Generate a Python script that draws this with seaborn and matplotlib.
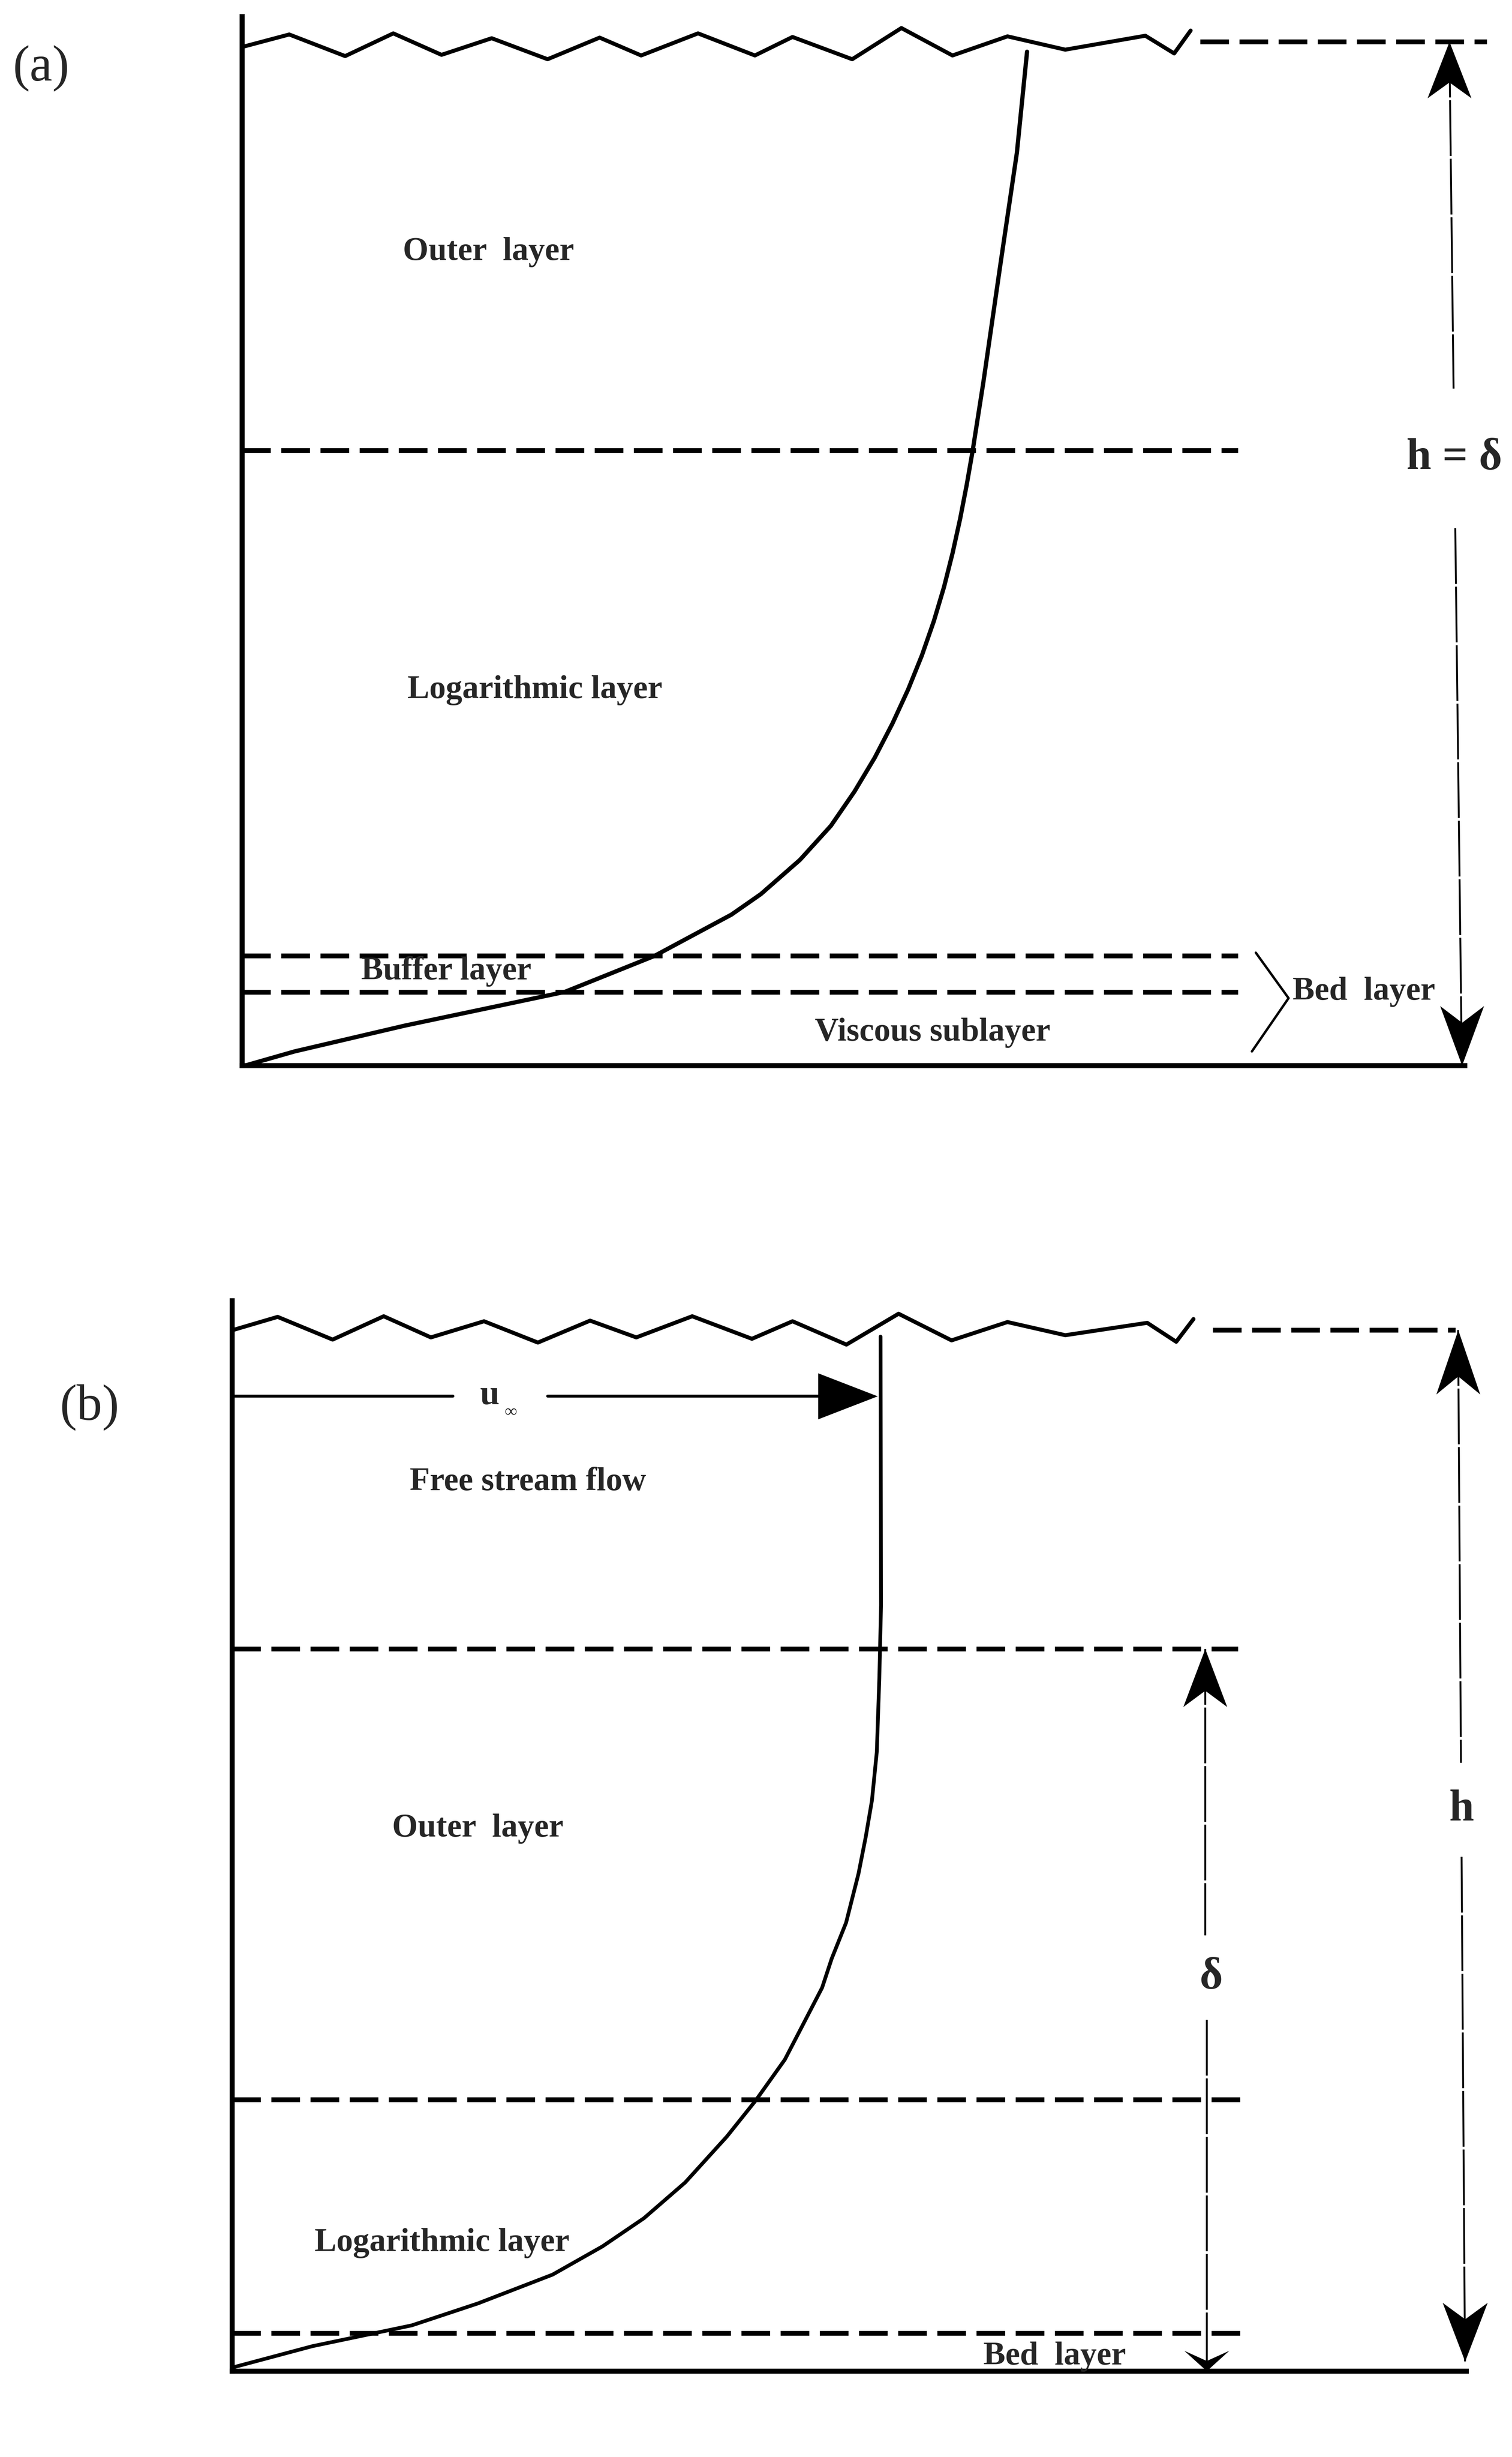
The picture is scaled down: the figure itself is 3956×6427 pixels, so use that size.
import numpy as np
import matplotlib
matplotlib.use("Agg")
import matplotlib.pyplot as plt
from matplotlib.path import Path
import seaborn as sns

# ------------------------------------------------------------------
# DATA  (diagram units: current speed u to the right of the z axis,
#        height z above the bed)
# ------------------------------------------------------------------
# Panel (a): h = delta, profile reaches the surface
a_profile_u = [2, 33.5, 104, 206, 263.3, 312.3, 331.1, 356, 375.8,
               390.8, 403.8, 415.1, 425.1, 433.9, 441.5, 448, 453.5, 458.3,
               462.5, 466.3, 473.1, 483.8, 494.5, 501]
a_profile_z = [0, 9, 25.5, 47, 70, 96.3, 109.4, 131.2, 153,
               174.8, 196.5, 218.3, 240, 261.8, 283.6, 305.4, 327.2, 349,
               370.7, 392.5, 436, 510, 582.5, 647]
a_wave_u = [0, 30.1, 65.8, 96.5, 127.3, 159.3, 195, 228.2, 254.7, 291,
            327.3, 351.3, 389.4, 420.8, 453.4, 488.5, 525.4, 576.5, 594.9, 605.4]
a_wave_z = [650, 658, 644.2, 658.7, 645, 655.6, 642.2, 656, 644.6, 658.7,
            644.6, 656.4, 642.2, 662.1, 644.6, 656.8, 648.3, 657.2, 645.9, 660.5]
a_bound_z = [392.5, 70, 47]          # outer/log, buffer top, viscous top
a_bound_len = [635.5, 635.5, 635.5]
a_surface_z = 653.4                  # h = delta
a_surface_u = [611.5, 794.5]
a_dim_u = [770.5, 778.5]             # h = delta dimension line (top, bottom)
a_dim_gap = [432, 343]
a_bracket_u = [647, 667.9, 644.5]
a_bracket_z = [72, 43, 9]
a_labels = ["Outer  layer", "Logarithmic layer", "Buffer layer",
            "Viscous sublayer", "Bed  layer"]

# Panel (b): free stream above the boundary layer
b_profile_u = [0, 51.3, 114.8, 157, 204.7, 236.5, 263, 289.3, 315.9, 334.3,
               352.9, 376.7, 382.8, 392, 399.9, 404.5, 408.5, 411.6, 413.2,
               414.3, 414]
b_profile_z = [2, 15.7, 29, 43, 61.4, 79.4, 97.4, 120.2, 149.5, 172.5,
               198.6, 244.5, 263, 286, 317.2, 340.5, 364, 395, 441.7,
               488.4, 660]
b_wave_u = [0, 29.2, 64.3, 96.9, 127, 160.9, 195.3, 228.6, 258.1, 293.8,
            331.9, 357.8, 392.2, 425.5, 459.3, 495, 531.9, 584.2, 602.7, 613.7]
b_wave_z = [664, 672.6, 658.1, 673, 659.5, 669.8, 656.2, 670.2, 659.5, 673,
            658.6, 669.8, 654.9, 674.6, 657.6, 669.3, 660.9, 668.8, 656.7, 671.2]
b_bound_z = [460.7, 173.2, 24]       # delta, outer/log, bed layer top
b_bound_len = [642, 648, 648]
b_surface_z = 664.2                  # h
b_surface_u = [626, 781]
b_h_u = [782.6, 787]
b_h_gap = [388, 328]
b_delta_u = [621, 622]
b_delta_gap = [278, 224]
b_uinf = 412                         # free-stream speed u_inf
b_uinf_z = 622
b_uinf_gap = [141, 201.5]
b_labels = ["Free stream flow", "Outer  layer", "Logarithmic layer", "Bed  layer"]

# ------------------------------------------------------------------
sns.set_theme(style="white")
plt.rcParams["font.family"] = ["Liberation Serif", "DejaVu Serif"]

REF_W, REF_H = 965.0, 1568.0
PT = (3956 / REF_W) * 0.72           # points per diagram unit at dpi=100
K = "black"

fig = plt.figure(figsize=(39.56, 64.27), dpi=100, facecolor="white")


def frame(x0, ytop, x1, ybot):
    return [x0 / REF_W, 1 - ybot / REF_H, (x1 - x0) / REF_W, (ybot - ytop) / REF_H]


def head(L, W, notch, direction):
    v = np.array([[0, 0], [-W / 2, -L], [0, -L * notch], [W / 2, -L], [0, 0]], float)
    th = np.deg2rad({"up": 0, "down": 180, "right": -90}[direction])
    R = np.array([[np.cos(th), -np.sin(th)], [np.sin(th), np.cos(th)]])
    v = v @ R.T
    codes = [Path.MOVETO, Path.LINETO, Path.LINETO, Path.LINETO, Path.CLOSEPOLY]
    return Path(v, codes), 2 * np.abs(v).max() * PT


def arrowhead(ax, u, z, L, W, notch, direction):
    p, ms = head(L, W, notch, direction)
    ax.plot([u], [z], marker=p, ms=ms, color=K, mew=0, ls="none",
            clip_on=False, zorder=5)


def setup(ax, xmax, ymax):
    ax.set_xlim(0, xmax)
    ax.set_ylim(0, ymax)
    ax.set_xticks([])
    ax.set_yticks([])
    ax.set_facecolor("none")
    sns.despine(ax=ax)
    for s in ("left", "bottom"):
        ax.spines[s].set_linewidth(9.5)
        ax.spines[s].set_color(K)


DASH = (0, (6, 2.2))
THIN = (0, (30, 1.5))
WAVE_LW = 7.5

# ============================ panel (a) ============================
ax = fig.add_axes(frame(154.5, 10.5, 934.7, 680))
setup(ax, 780.2, 669.5)

sns.lineplot(x=a_profile_u, y=a_profile_z, sort=False, estimator=None,
             color=K, linewidth=8, ax=ax, legend=False, clip_on=False)
ax.plot(a_wave_u, a_wave_z, color=K, lw=WAVE_LW, solid_joinstyle="round",
        solid_capstyle="round", clip_on=False)
for z, L in zip(a_bound_z, a_bound_len):
    ax.plot([0, L], [z, z], color=K, lw=9, ls=DASH, dash_capstyle="butt", clip_on=False)
ax.plot(a_surface_u, [a_surface_z] * 2, color=K, lw=9, ls=DASH,
        dash_capstyle="butt", clip_on=False)

# h = delta dimension line
zt, zb = a_surface_z, 0.0
ut, ub = a_dim_u
ug = np.interp(a_dim_gap, [zb, zt], [ub, ut])
ax.plot([ut, ug[0]], [zt, a_dim_gap[0]], color=K, lw=3.5, ls=THIN, clip_on=False)
ax.plot([ug[1], ub], [a_dim_gap[1], zb], color=K, lw=3.5, ls=THIN, clip_on=False)
arrowhead(ax, ut, zt, 36, 28, 0.72, "up")
arrowhead(ax, ub, zb, 38, 28, 0.72, "down")
ax.text(np.mean(ug), np.mean(a_dim_gap), "h = δ", fontsize=84, fontweight="bold",
        ha="center", va="center")

# bed-layer bracket
ax.plot(a_bracket_u, a_bracket_z, color=K, lw=4.5, clip_on=False)

lab_a = [(157.2, 514), (186.9, 234.5), (130.3, 55), (440.8, 16)]
for t, (u, z) in zip(a_labels[:4], lab_a):
    ax.text(u, z, t, fontsize=62, fontweight="bold", ha="center", va="baseline")
ax.text(670.5, 42, a_labels[4], fontsize=62, fontweight="bold", ha="left", va="baseline")

ax.text(-128.4, 628.3, "(a)", fontsize=96, ha="center", va="baseline")
ax.set_ylabel("z", rotation=0, fontsize=82, fontweight="bold")
ax.yaxis.set_label_coords(-37.5, 607, transform=ax.transData)
ax.yaxis.label.set_va("baseline")
ax.yaxis.label.set_ha("center")
ax.set_xlabel("Current speed", fontsize=84)
ax.xaxis.set_label_coords(337.3, -49.7, transform=ax.transData)
ax.xaxis.label.set_va("baseline")

# ============================ panel (b) ============================
ax = fig.add_axes(frame(148, 830, 935.7, 1513))
setup(ax, 787.7, 683)

sns.lineplot(x=b_profile_u, y=b_profile_z, sort=False, estimator=None,
             color=K, linewidth=7, ax=ax, legend=False, clip_on=False)
ax.plot(b_wave_u, b_wave_z, color=K, lw=WAVE_LW, solid_joinstyle="round",
        solid_capstyle="round", clip_on=False)
for z, L in zip(b_bound_z, b_bound_len):
    ax.plot([0, L], [z, z], color=K, lw=9, ls=DASH, dash_capstyle="butt", clip_on=False)
ax.plot(b_surface_u, [b_surface_z] * 2, color=K, lw=9, ls=DASH,
        dash_capstyle="butt", clip_on=False)

# u_inf arrow
ax.plot([0, b_uinf_gap[0]], [b_uinf_z] * 2, color=K, lw=5.5, clip_on=False)
ax.plot([b_uinf_gap[1], b_uinf - 30], [b_uinf_z] * 2, color=K, lw=5.5, clip_on=False)
arrowhead(ax, b_uinf, b_uinf_z, 38, 29.4, 1.0, "right")
ax.text(164.6, 617, "u", fontsize=66, fontweight="bold", ha="center", va="baseline")
ax.text(178, 609, "∞", fontsize=32, fontweight="bold", ha="center", va="baseline")

# h dimension line
ut, ub = b_h_u
ug = np.interp(b_h_gap, [0, b_surface_z], [ub, ut])
ax.plot([ut, ug[0]], [b_surface_z, b_h_gap[0]], color=K, lw=3.5, ls=THIN, clip_on=False)
ax.plot([ug[1], ub], [b_h_gap[1], 6], color=K, lw=3.5, ls=THIN, clip_on=False)
arrowhead(ax, ut, b_surface_z, 41, 28, 0.72, "up")
arrowhead(ax, ub, 6, 37.5, 28.7, 0.72, "down")
ax.text(np.mean(ug), np.mean(b_h_gap), "h", fontsize=84, fontweight="bold",
        ha="center", va="center")

# delta dimension line
ut, ub = b_delta_u
ax.plot([ut, ut], [b_bound_z[0], b_delta_gap[0]],
        color=K, lw=3.5, ls=THIN, clip_on=False)
ax.plot([ub, ub], [b_delta_gap[1], 0], color=K, lw=3.5, ls=THIN, clip_on=False)
arrowhead(ax, ut, b_bound_z[0], 37, 28, 0.72, "up")
arrowhead(ax, ub, 0, 13, 28.7, 0.5, "down")
ax.text(ut + 4, np.mean(b_delta_gap), "δ", fontsize=84, fontweight="bold",
        ha="center", va="center")

lab_b = [(188.9, 562), (157, 341), (134, 76.4), (525, 4)]
for t, (u, z) in zip(b_labels, lab_b):
    ax.text(u, z, t, fontsize=62, fontweight="bold", ha="center", va="baseline")

ax.text(-91, 607, "(b)", fontsize=96, ha="center", va="baseline")
ax.set_ylabel("z", rotation=0, fontsize=82, fontweight="bold")
ax.yaxis.set_label_coords(-31, 639, transform=ax.transData)
ax.yaxis.label.set_va("baseline")
ax.yaxis.label.set_ha("center")
ax.set_xlabel("Current speed", fontsize=84)
ax.xaxis.set_label_coords(263, -48, transform=ax.transData)
ax.xaxis.label.set_va("baseline")

fig.savefig("out.png", dpi=100, facecolor="white")
